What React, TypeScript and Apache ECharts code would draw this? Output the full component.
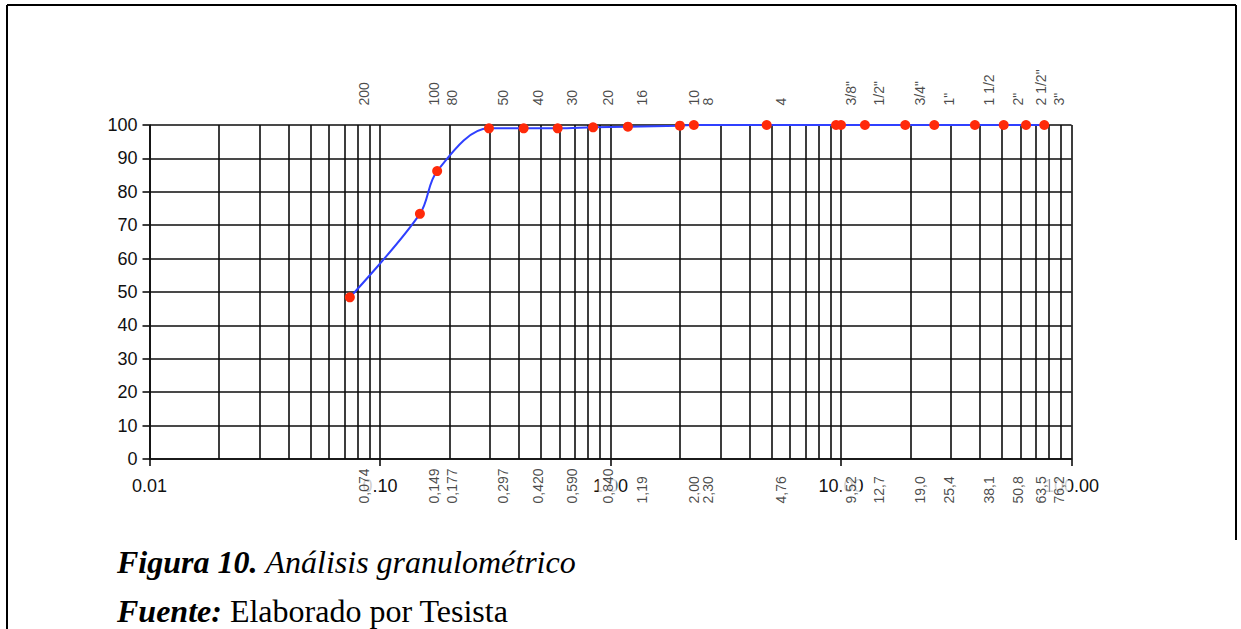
import React, { useEffect, useRef } from "react";
import * as echarts from "echarts";

// Particle size (mm) of each plotted point and percentage passing
const sizes = [0.074, 0.149, 0.177, 0.297, 0.42, 0.59, 0.84, 1.19, 2.0, 2.3, 4.76, 9.52, 10.0, 12.7, 19.0, 25.4, 38.1, 50.8, 63.5, 76.2];
const passing = [48.4, 73.4, 86.2, 99.0, 99.0, 99.0, 99.3, 99.5, 99.8, 100, 100, 100, 100, 100, 100, 100, 100, 100, 100, 100];

// Sieve openings with their sieve names (top) and opening labels (bottom)
const sieveSizes = [0.074, 0.149, 0.177, 0.297, 0.42, 0.59, 0.84, 1.19, 2.0, 2.3, 4.76, 9.52, 12.7, 19.0, 25.4, 38.1, 50.8, 63.5, 76.2];
const sieveNames = ["200", "100", "80", "50", "40", "30", "20", "16", "10", "8", "4", '3/8"', '1/2"', '3/4"', '1"', "1 1/2", '2"', '2 1/2"', '3"'];
const openingLabels = ["0,074", "0,149", "0,177", "0,297", "0,420", "0,590", "0,840", "1,19", "2,00", "2,30", "4,76", "9,52", "12,7", "19,0", "25,4", "38,1", "50,8", "63,5", "76,2"];

// Log grid: decades and the multipliers 1..9 inside each decade
const decades = [0.01, 0.1, 1, 10];
const multipliers = [1, 2, 3, 4, 5, 6, 7, 8, 9];
const xMax = 100;

const captionTitle = "Figura 10.";
const captionText = "Análisis granulométrico";
const sourceTitle = "Fuente:";
const sourceText = "Elaborado por Tesista";

const SANS = "'Liberation Sans', Arial, sans-serif";
const SERIF = "'Liberation Serif', 'Times New Roman', serif";

export default function App() {
  const ref = useRef<HTMLDivElement>(null);

  useEffect(() => {
    if (!ref.current) return;
    const chart = echarts.init(ref.current, undefined, { renderer: "svg" });

    const gridValues: number[] = [];
    decades.forEach((d) => multipliers.forEach((m) => gridValues.push(Number((d * m).toPrecision(3)))));
    gridValues.push(xMax);

    const lineColor = "#0d0d0d";
    const lw = 1.6;

    const option: any = {
      animation: false,
      backgroundColor: "#ffffff",
      grid: { left: 149.5, right: 169.5, top: 125, bottom: 170, containLabel: false },
      xAxis: {
        type: "log",
        logBase: 10,
        min: 0.01,
        max: xMax,
        splitNumber: 4,
        axisLine: { show: true, onZero: false, lineStyle: { color: lineColor, width: lw } },
        axisTick: { show: true, length: 7, lineStyle: { color: lineColor, width: lw } },
        axisLabel: {
          formatter: (v: number) => Number(v).toFixed(2),
          fontSize: 18,
          color: "#111",
          margin: 18,
          fontFamily: SANS,
        },
        splitLine: { show: false },
      },
      yAxis: {
        type: "value",
        min: 0,
        max: 100,
        interval: 10,
        axisLine: { show: true, lineStyle: { color: lineColor, width: lw } },
        axisTick: { show: true, length: 7, lineStyle: { color: lineColor, width: lw } },
        axisLabel: { fontSize: 18, color: "#111", margin: 12, fontFamily: SANS },
        splitLine: { show: true, lineStyle: { color: lineColor, width: lw } },
      },
      series: [
        {
          type: "line",
          name: "grid",
          data: sizes.map((s, i) => [s, passing[i]]),
          showSymbol: false,
          silent: true,
          lineStyle: { opacity: 0 },
          z: 1,
          markLine: {
            silent: true,
            symbol: ["none", "none"],
            z: 1,
            animation: false,
            label: { show: false },
            emphasis: { disabled: true },
            lineStyle: { color: lineColor, width: lw, type: "solid" },
            data: gridValues.map((v) => ({ xAxis: v })),
          },
        },
        {
          type: "line",
          name: "granulometria",
          data: sizes.map((s, i) => [s, passing[i]]),
          smooth: 0.35,
          symbol: "circle",
          symbolSize: 10,
          showSymbol: true,
          clip: false,
          z: 10,
          itemStyle: { color: "#ff2a0a" },
          lineStyle: { color: "#2f40ff", width: 2 },
        },
        {
          type: "scatter",
          name: "tamices",
          data: sieveSizes.map((s, i) => ({ value: [s, 100], name: sieveNames[i] })),
          symbolSize: 1,
          clip: false,
          silent: true,
          z: 12,
          itemStyle: { color: "rgba(0,0,0,0)" },
          label: {
            show: true,
            formatter: (p: any) => p.name,
            position: [15, -19],
            rotate: 90,
            align: "left",
            verticalAlign: "middle",
            fontSize: 14,
            color: "#1a1a1a",
            fontFamily: SANS,
          },
        },
        {
          type: "scatter",
          name: "aberturas",
          data: sieveSizes.map((s, i) => ({ value: [s, 0], name: openingLabels[i] })),
          symbolSize: 1,
          clip: false,
          silent: true,
          z: 12,
          itemStyle: { color: "rgba(0,0,0,0)" },
          label: {
            show: true,
            formatter: (p: any) => p.name,
            position: [15, 46],
            rotate: 90,
            align: "left",
            verticalAlign: "middle",
            fontSize: 14,
            color: "#1a1a1a",
            fontFamily: SANS,
            backgroundColor: "#ffffff",
            padding: [2, 1, 2, 1],
          },
        },
      ],
      graphic: [
        { type: "line", silent: true, shape: { x1: 7, y1: 5, x2: 1236, y2: 5 }, style: { stroke: "#000", lineWidth: 2 } },
        { type: "line", silent: true, shape: { x1: 7, y1: 5, x2: 7, y2: 629 }, style: { stroke: "#000", lineWidth: 2 } },
        { type: "line", silent: true, shape: { x1: 1236, y1: 5, x2: 1236, y2: 540 }, style: { stroke: "#000", lineWidth: 2 } },
        {
          type: "text",
          x: 117,
          y: 562,
          silent: true,
          style: {
            text: `{b|${captionTitle}} {i|${captionText}}`,
            fontSize: 32,
            fontFamily: SERIF,
            fill: "#000",
            verticalAlign: "middle",
            rich: {
              b: { fontSize: 32, fontFamily: SERIF, fontWeight: "bold", fontStyle: "italic", fill: "#000" },
              i: { fontSize: 32, fontFamily: SERIF, fontStyle: "italic", fill: "#000" },
            },
          },
        },
        {
          type: "text",
          x: 117,
          y: 611,
          silent: true,
          style: {
            text: `{b|${sourceTitle}} {n|${sourceText}}`,
            fontSize: 32,
            fontFamily: SERIF,
            fill: "#000",
            verticalAlign: "middle",
            rich: {
              b: { fontSize: 32, fontFamily: SERIF, fontWeight: "bold", fontStyle: "italic", fill: "#000" },
              n: { fontSize: 32, fontFamily: SERIF, fill: "#000" },
            },
          },
        },
      ],
    };

    chart.setOption(option);
    return () => chart.dispose();
  }, []);

  return (
    <div
      ref={ref}
      style={{ position: "absolute", left: 0, top: 0, width: 1241, height: 629, background: "#fff" }}
    />
  );
}
